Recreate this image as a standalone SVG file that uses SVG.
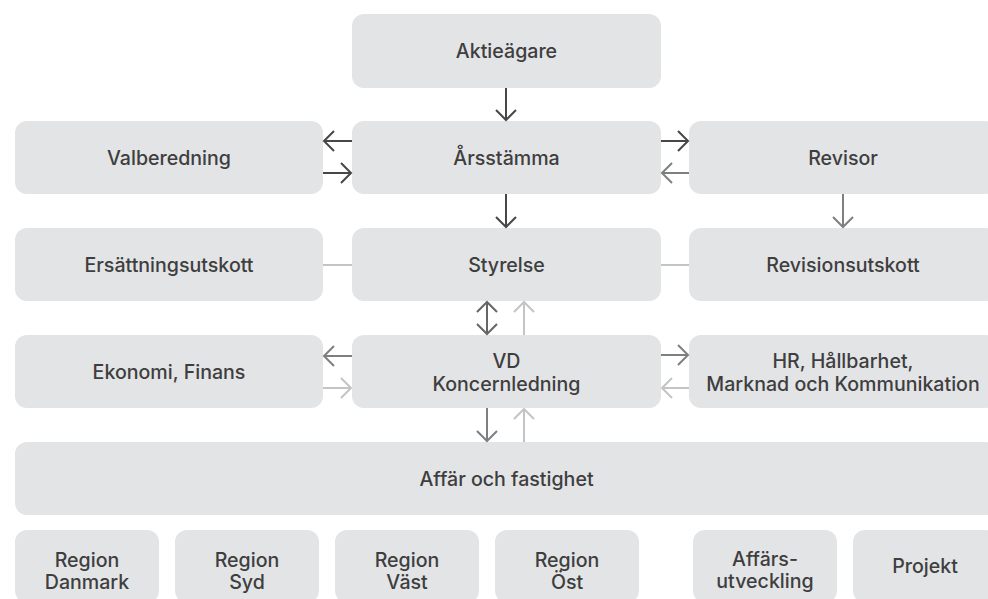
<svg xmlns="http://www.w3.org/2000/svg" width="988" height="599" viewBox="0 0 988 599">
  <style>
    .box { fill: #e3e4e6; }
    .t { font-family: Inter, "Liberation Sans", sans-serif; font-size: 19.6px; font-weight: 500; fill: #3e3e3e; text-anchor: middle; }
    .c { fill: none; stroke-width: 2; }
    .dark { stroke: #474747; }
    .mid { stroke: #7f7f7f; }
    .mid2 { stroke: #666666; }
    .light { stroke: #c4c4c4; }
  </style>
  <defs>
    <marker id="aDark" viewBox="-12 -12 14 24" refX="0" refY="0" markerWidth="14" markerHeight="24" markerUnits="userSpaceOnUse" orient="auto-start-reverse">
      <path d="M-10,-10 L0,0 L-10,10" fill="none" stroke="#474747" stroke-width="2"/>
    </marker>
    <marker id="aMid" viewBox="-12 -12 14 24" refX="0" refY="0" markerWidth="14" markerHeight="24" markerUnits="userSpaceOnUse" orient="auto-start-reverse">
      <path d="M-10,-10 L0,0 L-10,10" fill="none" stroke="#7f7f7f" stroke-width="2"/>
    </marker>
    <marker id="aMid2" viewBox="-12 -12 14 24" refX="0" refY="0" markerWidth="14" markerHeight="24" markerUnits="userSpaceOnUse" orient="auto-start-reverse">
      <path d="M-10,-10 L0,0 L-10,10" fill="none" stroke="#666666" stroke-width="2"/>
    </marker>
    <marker id="aLight" viewBox="-12 -12 14 24" refX="0" refY="0" markerWidth="14" markerHeight="24" markerUnits="userSpaceOnUse" orient="auto-start-reverse">
      <path d="M-10,-10 L0,0 L-10,10" fill="none" stroke="#c4c4c4" stroke-width="2"/>
    </marker>
  </defs>
  <rect width="988" height="599" fill="#ffffff"/>

  <g id="aktieagare"><rect class="box" x="352" y="14" width="309" height="74" rx="12"/><text class="t" x="506.5" y="58">Aktieägare</text></g>
  <g id="valberedning"><rect class="box" x="15" y="121" width="308" height="73" rx="12"/><text class="t" x="169" y="165">Valberedning</text></g>
  <g id="arsstamma"><rect class="box" x="352" y="121" width="309" height="73" rx="12"/><text class="t" x="506.5" y="165">Årsstämma</text></g>
  <g id="revisor"><rect class="box" x="689" y="121" width="308" height="73" rx="12"/><text class="t" x="843" y="165">Revisor</text></g>
  <g id="ersattningsutskott"><rect class="box" x="15" y="228" width="308" height="73" rx="12"/><text class="t" x="169" y="272">Ersättningsutskott</text></g>
  <g id="styrelse"><rect class="box" x="352" y="228" width="309" height="73" rx="12"/><text class="t" x="506.5" y="272">Styrelse</text></g>
  <g id="revisionsutskott"><rect class="box" x="689" y="228" width="308" height="73" rx="12"/><text class="t" x="843" y="272">Revisionsutskott</text></g>
  <g id="ekonomi"><rect class="box" x="15" y="335" width="308" height="73" rx="12"/><text class="t" x="169" y="378.5">Ekonomi, Finans</text></g>
  <g id="vd"><rect class="box" x="352" y="335" width="309" height="73" rx="12"/><text class="t" x="506.5" y="368">VD</text><text class="t" x="506.5" y="390.5">Koncernledning</text></g>
  <g id="hr"><rect class="box" x="689" y="335" width="308" height="73" rx="12"/><text class="t" x="843" y="368">HR, Hållbarhet,</text><text class="t" x="843" y="390.5">Marknad och Kommunikation</text></g>
  <g id="affar"><rect class="box" x="15" y="442" width="982" height="73" rx="12"/><text class="t" x="506.5" y="486">Affär och fastighet</text></g>
  <g id="region-danmark"><rect class="box" x="15" y="530" width="144" height="73" rx="12"/><text class="t" x="87" y="566.5">Region</text><text class="t" x="87" y="588.5">Danmark</text></g>
  <g id="region-syd"><rect class="box" x="175" y="530" width="144" height="73" rx="12"/><text class="t" x="247" y="566.5">Region</text><text class="t" x="247" y="588.5">Syd</text></g>
  <g id="region-vast"><rect class="box" x="335" y="530" width="144" height="73" rx="12"/><text class="t" x="407" y="566.5">Region</text><text class="t" x="407" y="588.5">Väst</text></g>
  <g id="region-ost"><rect class="box" x="495" y="530" width="144" height="73" rx="12"/><text class="t" x="567" y="566.5">Region</text><text class="t" x="567" y="588.5">Öst</text></g>
  <g id="affarsutveckling"><rect class="box" x="693" y="530" width="144" height="73" rx="12"/><text class="t" x="765" y="565.5">Affärs-</text><text class="t" x="765" y="587.5">utveckling</text></g>
  <g id="projekt"><rect class="box" x="853" y="530" width="144" height="73" rx="12"/><text class="t" x="925" y="573">Projekt</text></g>

  <g id="connectors">
    <path class="c dark" d="M506 88 V120" marker-end="url(#aDark)"/>
    <path class="c dark" d="M352 141 H324" marker-end="url(#aDark)"/>
    <path class="c dark" d="M323 173 H351" marker-end="url(#aDark)"/>
    <path class="c dark" d="M661 141 H688" marker-end="url(#aDark)"/>
    <path class="c mid" d="M689 173 H662" marker-end="url(#aMid)"/>
    <path class="c dark" d="M506 194 V227" marker-end="url(#aDark)"/>
    <path class="c mid" d="M843 194 V227" marker-end="url(#aMid)"/>
    <path class="c light" d="M323 265 H352"/>
    <path class="c light" d="M661 265 H689"/>
    <path class="c mid2" d="M487 302 V334" marker-start="url(#aMid2)" marker-end="url(#aMid2)"/>
    <path class="c light" d="M524 335 V302" marker-end="url(#aLight)"/>
    <path class="c mid" d="M352 356 H324" marker-end="url(#aMid)"/>
    <path class="c light" d="M323 388 H351" marker-end="url(#aLight)"/>
    <path class="c mid" d="M661 355 H688" marker-end="url(#aMid)"/>
    <path class="c light" d="M689 388 H662" marker-end="url(#aLight)"/>
    <path class="c mid" d="M487 408 V441" marker-end="url(#aMid)"/>
    <path class="c light" d="M524 442 V409" marker-end="url(#aLight)"/>
  </g>
</svg>
